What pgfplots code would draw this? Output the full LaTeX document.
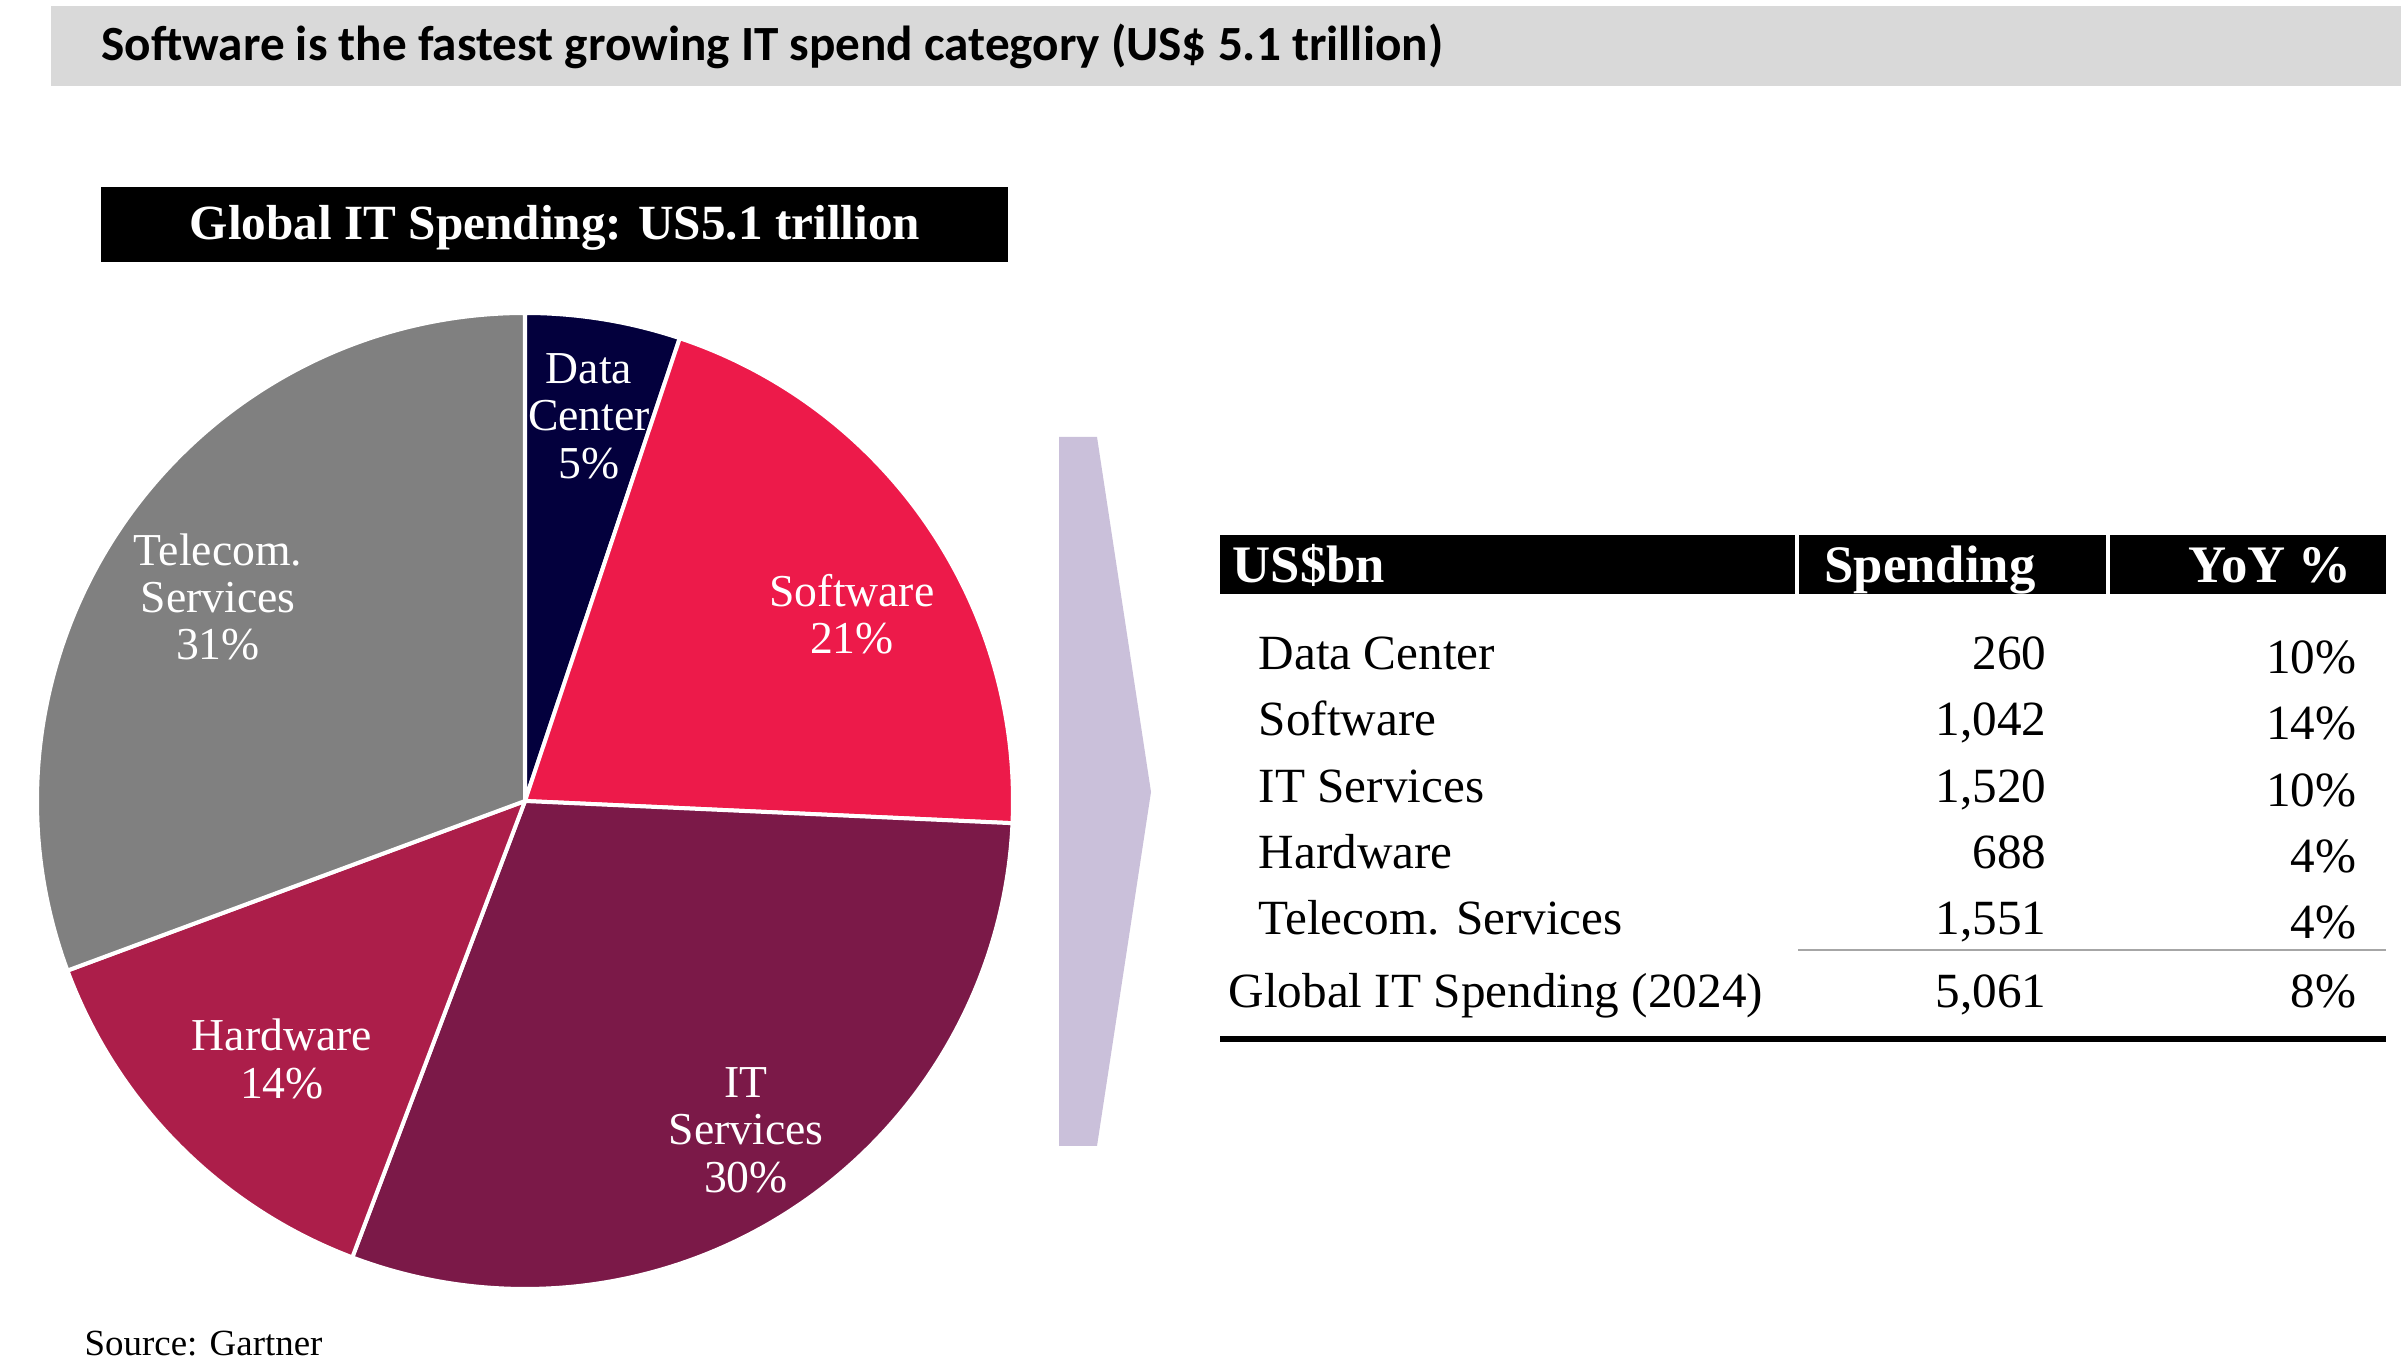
\documentclass[border=0pt]{standalone}
\usepackage{pgfplots}
\pgfplotsset{compat=1.18}
\usepackage{fontspec}
\setmainfont{Liberation Serif}
\newfontfamily\carlito{Carlito}
\definecolor{dcnavy}{HTML}{03003D}
\definecolor{swred}{HTML}{ED1A4A}
\definecolor{itmaroon}{HTML}{7B1948}
\definecolor{hwred}{HTML}{AC1E4A}
\definecolor{telgray}{HTML}{808080}
\definecolor{barbg}{HTML}{D9D9D9}
\definecolor{chev}{HTML}{CAC0DA}
\definecolor{rulegray}{HTML}{A6A6A6}

\begin{document}
\begin{tikzpicture}
\begin{axis}[width=24.06cm, height=13.69cm, scale only axis,
  xmin=0, xmax=2406, ymin=0, ymax=1369, y dir=reverse,
  hide axis, clip=false]
% page and heading bar
\fill[white] (axis cs:0,0) rectangle (axis cs:2406,1369);
\fill[barbg] (axis cs:51,6) rectangle (axis cs:2401,86);
\node[anchor=west, inner sep=0pt, font=\carlito\bfseries\fontsize{14}{16}\selectfont]
  at (axis cs:101,46) {Software is the fastest growing IT spend category (US\$ 5.1 trillion)};

% pie title
\fill[black] (axis cs:101,187) rectangle (axis cs:1008,262);
\node[text=white, font=\bfseries\fontsize{14}{16}\selectfont]
  at (axis cs:555,228) {Global IT Spending: US5.1 trillion};

% pie, spending in US$bn, clockwise from 12 o'clock
\pgfplotsextra{
  \gdef\acc{90}
  \foreach \v/\col in {260/dcnavy, 1042/swred, 1520/itmaroon, 688/hwred, 1551/telgray}{
    \pgfmathsetmacro\aend{\acc-\v/5061*360}
    \fill[\col, draw=white, line width=0.04cm] (axis cs:525,801) -- ++(\acc:4.88cm)
      arc[start angle=\acc, end angle=\aend, radius=4.88cm] -- cycle;
    \global\let\acc\aend
  }
}
\begin{scope}[every node/.style={text=white, align=center, font=\fontsize{13}{13.5}\selectfont}]
\node at (axis cs:589,416) {Data\\Center\\5\%};
\node at (axis cs:852,614) {Software\\21\%};
\node at (axis cs:746,1130) {IT\\Services\\30\%};
\node at (axis cs:282,1059) {Hardware\\14\%};
\node at (axis cs:218,597) {Telecom.\\Services\\31\%};
\end{scope}

% chevron
\fill[chev] (axis cs:1059,437) -- (axis cs:1097,437) -- (axis cs:1151,792)
  -- (axis cs:1097,1146) -- (axis cs:1059,1146) -- cycle;

% table
\fill[black] (axis cs:1220,535) rectangle (axis cs:2386,594);
\draw[white, line width=0.04cm] (axis cs:1797,535) -- (axis cs:1797,594);
\draw[white, line width=0.04cm] (axis cs:2108,535) -- (axis cs:2108,594);
\begin{scope}[every node/.style={text=white, inner sep=0pt, font=\bfseries\fontsize{15}{17}\selectfont}]
\node[anchor=base west] at (axis cs:1232,583) {US\$bn};
\node[anchor=base] at (axis cs:1930,583) {Spending};
\node[anchor=base east] at (axis cs:2352,583) {YoY \%};
\end{scope}
\begin{scope}[every node/.style={inner sep=0pt, font=\fontsize{14}{16}\selectfont}]
\node[anchor=base west] at (axis cs:1258,670) {Data Center};
\node[anchor=base west] at (axis cs:1258,736) {Software};
\node[anchor=base west] at (axis cs:1258,803) {IT Services};
\node[anchor=base west] at (axis cs:1258,869) {Hardware};
\node[anchor=base west] at (axis cs:1258,935) {Telecom. Services};
\node[anchor=base west] at (axis cs:1228,1008) {Global IT Spending (2024)};
\node[anchor=base east] at (axis cs:2047,670) {260};
\node[anchor=base east] at (axis cs:2047,736) {1,042};
\node[anchor=base east] at (axis cs:2047,803) {1,520};
\node[anchor=base east] at (axis cs:2047,869) {688};
\node[anchor=base east] at (axis cs:2047,935) {1,551};
\node[anchor=base east] at (axis cs:2047,1008) {5,061};
\node[anchor=base east] at (axis cs:2357,674) {10\%};
\node[anchor=base east] at (axis cs:2357,740) {14\%};
\node[anchor=base east] at (axis cs:2357,807) {10\%};
\node[anchor=base east] at (axis cs:2357,873) {4\%};
\node[anchor=base east] at (axis cs:2357,939) {4\%};
\node[anchor=base east] at (axis cs:2357,1008) {8\%};
\end{scope}
\draw[rulegray, line width=0.02cm] (axis cs:1798,950) -- (axis cs:2386,950);
\draw[black, line width=0.06cm] (axis cs:1220,1039) -- (axis cs:2386,1039);

% source
\node[anchor=west, inner sep=0pt, font=\fontsize{10.5}{12}\selectfont] at (axis cs:84,1344) {Source: Gartner};
\end{axis}
\end{tikzpicture}
\end{document}
